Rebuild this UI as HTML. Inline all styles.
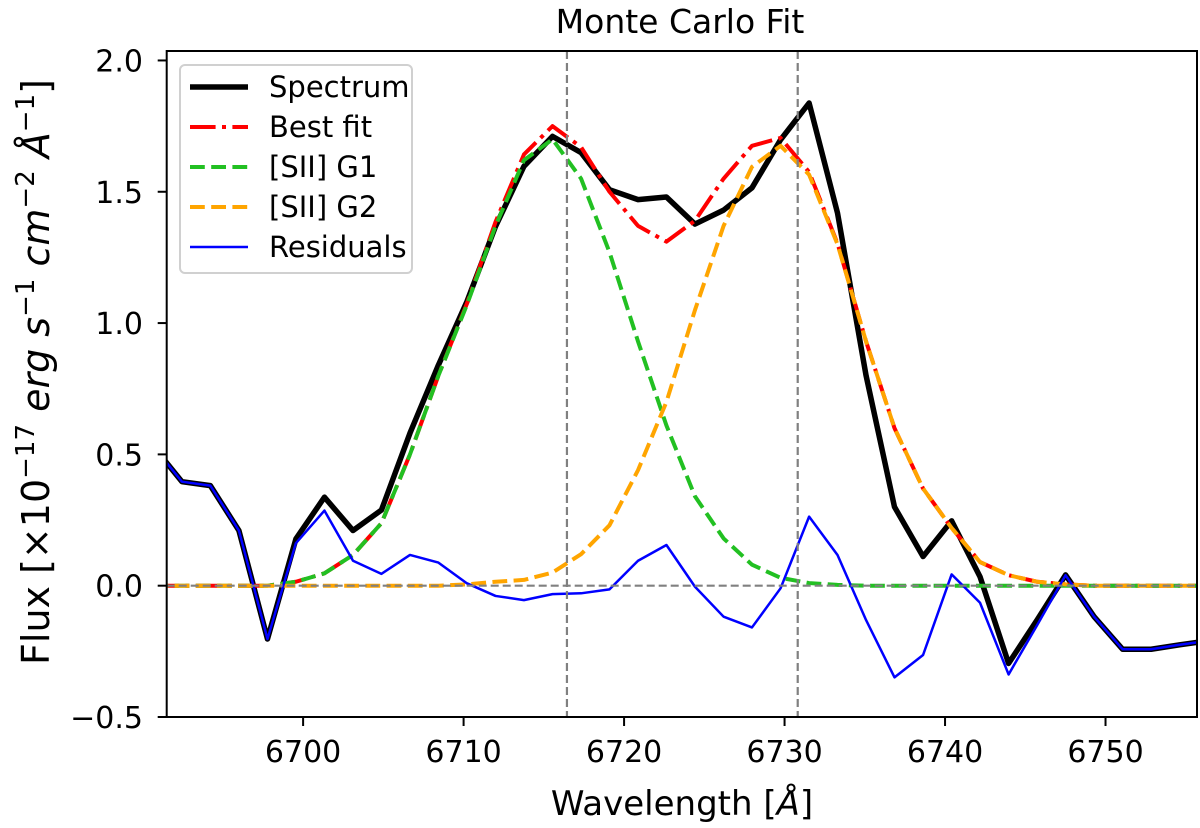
<!DOCTYPE html>
<html><head><meta charset="utf-8"><style>
html,body{margin:0;padding:0;background:#fff;}
svg{display:block;font-family:"DejaVu Sans","Liberation Sans",sans-serif;}
</style></head><body>
<svg id="chart" width="1200" height="828" viewBox="0 0 1200 828">
<text x="680" y="33" font-size="33" text-anchor="middle">Monte Carlo Fit</text>
<defs><clipPath id="plotclip"><rect x="166.7" y="51" width="1030.3" height="666"/></clipPath></defs>
<g id="series" clip-path="url(#plotclip)"></g>
<g id="axes"></g>
<text x="682" y="815" font-size="34" text-anchor="middle">Wavelength [<tspan font-style="italic">Å</tspan>]</text>
<text transform="translate(49,372) rotate(-90)" font-size="38" text-anchor="middle">Flux [×10<tspan font-size="26" dy="-15">−17</tspan><tspan dy="15" font-style="italic"> erg s</tspan><tspan font-size="26" dy="-15">−1</tspan><tspan dy="15" font-style="italic"> cm</tspan><tspan font-size="26" dy="-15">−2</tspan><tspan dy="15" font-style="italic"> Å</tspan><tspan font-size="26" dy="-15">−1</tspan><tspan dy="15">]</tspan></text>
<g>
<rect x="180" y="65" width="232" height="208" rx="5" fill="#fff" fill-opacity="0.85" stroke="#d0d0d0" stroke-width="2"/>
<line x1="190" y1="87" x2="248" y2="87" stroke="#000" stroke-width="5.5"/>
<text x="269" y="97" font-size="29">Spectrum</text>
<line x1="190" y1="127" x2="248" y2="127" stroke="#ff0000" stroke-width="4" stroke-dasharray="25.6 6.4 4 6.4"/>
<text x="269" y="137" font-size="29">Best fit</text>
<line x1="190" y1="167" x2="248" y2="167" stroke="#22c022" stroke-width="4" stroke-dasharray="14.8 6.4"/>
<text x="269" y="177" font-size="29">[SII] G1</text>
<line x1="190" y1="207" x2="248" y2="207" stroke="#ffa500" stroke-width="4" stroke-dasharray="14.8 6.4"/>
<text x="269" y="217" font-size="29">[SII] G2</text>
<line x1="190" y1="247" x2="248" y2="247" stroke="#0000ff" stroke-width="2.5"/>
<text x="269" y="257" font-size="29">Residuals</text>
</g>
</svg>
<script>
const wavelengths = [6690.67,6692.45,6694.22,6696.00,6697.78,6699.55,6701.33,6703.11,6704.88,6706.66,6708.43,6710.21,6711.99,6713.76,6715.54,6717.32,6719.09,6720.87,6722.64,6724.42,6726.20,6727.97,6729.75,6731.53,6733.30,6735.08,6736.85,6738.63,6740.41,6742.18,6743.96,6745.74,6747.51,6749.29,6751.06,6752.84,6754.62,6756.39];
const spectrum = [0.53,0.396,0.381,0.21,-0.203,0.178,0.337,0.21,0.288,0.581,0.84,1.082,1.368,1.597,1.711,1.649,1.508,1.47,1.48,1.377,1.43,1.515,1.698,1.838,1.419,0.80,0.30,0.111,0.247,0.034,-0.296,-0.13,0.041,-0.118,-0.242,-0.242,-0.225,-0.21];
const bestFit = [0,0,0,0,0,0.015,0.047,0.117,0.238,0.50,0.80,1.075,1.385,1.642,1.75,1.67,1.50,1.37,1.31,1.39,1.55,1.675,1.705,1.575,1.303,0.93,0.60,0.37,0.22,0.09,0.04,0.015,0.005,0,0,0,0,0];
const g1 = [0,0,0,0,0,0.015,0.047,0.117,0.238,0.50,0.80,1.07,1.37,1.62,1.70,1.55,1.27,0.93,0.61,0.34,0.18,0.08,0.03,0.01,0.003,0,0,0,0,0,0,0,0,0,0,0,0,0];
const g2 = [0,0,0,0,0,0,0,0,0,0,0,0.005,0.015,0.022,0.05,0.12,0.23,0.44,0.70,1.05,1.37,1.595,1.675,1.565,1.30,0.93,0.60,0.37,0.22,0.09,0.04,0.015,0.005,0,0,0,0,0];
const residuals = [0.53,0.396,0.381,0.21,-0.203,0.162,0.286,0.095,0.045,0.117,0.088,0.009,-0.039,-0.055,-0.032,-0.029,-0.014,0.095,0.155,-0.004,-0.118,-0.159,-0.01,0.263,0.117,-0.131,-0.349,-0.264,0.043,-0.065,-0.338,-0.15,0.04,-0.118,-0.242,-0.242,-0.225,-0.21];
const lineCenters = [6716.44,6730.82];
const xTicks = [6700,6710,6720,6730,6740,6750];
const yTicks = [-0.5,0.0,0.5,1.0,1.5,2.0];
const yTickLabels = ["\u22120.5","0.0","0.5","1.0","1.5","2.0"];

const X0=166.7,X1=1197,Y0=51,Y1=717;
const xMin=6691.5,xMax=6755.7,yMin=-0.5,yMax=2.036;
function xs(v){return X0+(v-xMin)/(xMax-xMin)*(X1-X0);}
function ys(v){return Y1-(v-yMin)/(yMax-yMin)*(Y1-Y0);}
const NS="http://www.w3.org/2000/svg";
const gS=document.getElementById('series');
const gA=document.getElementById('axes');
function mk(tag,attrs,parent){const e=document.createElementNS(NS,tag);for(const k in attrs)e.setAttribute(k,attrs[k]);parent.appendChild(e);return e;}
function poly(vals,stroke,w,dash,name){
  const pts=vals.map((v,i)=>xs(wavelengths[i]).toFixed(2)+','+ys(v).toFixed(2)).join(' ');
  const p=mk('polyline',{points:pts,fill:'none',stroke:stroke,'stroke-width':w,'stroke-linejoin':'round','stroke-dasharray':dash||'none'},gS);
  
  
}
poly(spectrum,'#000',5.5,null,'spectrum-line');
poly(bestFit,'#ff0000',4,'25.6 6.4 4 6.4','best-fit-line');
poly(g1,'#22c022',4,'14.8 6.4','sii-g1-line');
poly(g2,'#ffa500',4,'14.8 6.4','sii-g2-line');
poly(residuals,'#0000ff',2.5,null,'residuals-line');
const zl=mk('line',{x1:X0,x2:X1,y1:ys(0),y2:ys(0),stroke:'#808080','stroke-width':2.2,'stroke-dasharray':'8 4'},gS);


lineCenters.forEach(c=>{
  const l=mk('line',{x1:xs(c),x2:xs(c),y1:Y0,y2:Y1,stroke:'#808080','stroke-width':2.2,'stroke-dasharray':'8 4'},gS);
  
  
});
const fr=mk('rect',{x:X0,y:Y0,width:X1-X0,height:Y1-Y0,fill:'none',stroke:'#000','stroke-width':2},gA);


xTicks.forEach(t=>{
  const x=xs(t);
  const tk=mk('line',{x1:x,x2:x,y1:Y1,y2:Y1+9,stroke:'#000','stroke-width':2},gA);
  
  
  const tx=mk('text',{x:x,y:762,'font-size':30,'text-anchor':'middle'},gA);
  tx.textContent=String(t);
  
  
});
yTicks.forEach((t,i)=>{
  const y=ys(t);
  const tk=mk('line',{x1:X0-9,x2:X0,y1:y,y2:y,stroke:'#000','stroke-width':2},gA);
  
  
  const tx=mk('text',{x:143,y:y+11,'font-size':30,'text-anchor':'end'},gA);
  tx.textContent=yTickLabels[i];
  
  
});
</script>
</body></html>
